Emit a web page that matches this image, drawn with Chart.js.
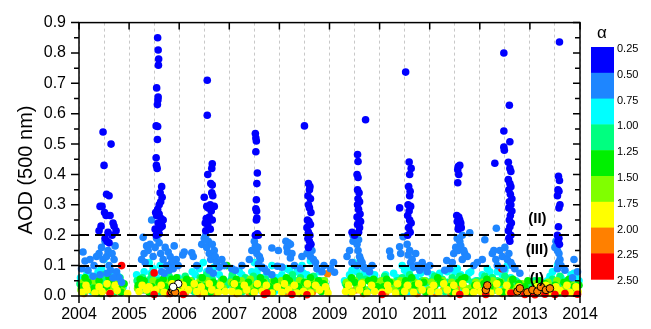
<!DOCTYPE html>
<html>
<head>
<meta charset="utf-8">
<title>AOD (500 nm) 2004-2014</title>
<script src="https://cdn.jsdelivr.net/npm/chart.js@4.4.1/dist/chart.umd.min.js"></script>
<style>
    html, body { margin: 0; padding: 0; background: #fff; }
    canvas { display: block; }
</style>
</head>
<body>
<canvas id="aodChart" width="651" height="329"></canvas>
<script>
/**
 * AOD (500 nm) time series coloured by Angstrom exponent (alpha)
 */

// Axis setup
const yearMin = 2004;
const yearMax = 2014;
const aodMax = 0.9;

// Alpha colour bins (top to bottom of the colour bar)
const alphaTicks = ['0.25', '0.50', '0.75', '1.00', '1.25', '1.50', '1.75', '2.00', '2.25', '2.50'];
const alphaColors = ['#0000ff', '#1e86ff', '#00ffff', '#00ff80', '#00f000', '#80ff00', '#ffff00', '#ff8000', '#ff0000'];

// Threshold lines and the region labels
const thresholds = [0.2, 0.1];
const regionLabels = ['(II)', '(III)', '(I)'];
const regionYears = [2013.15, 2013.14, 2013.14];
const regionAod = [0.255, 0.153, 0.057];

// Points per alpha bin: [decimal year, AOD]
const alpha025 = [
    [2004.48,0.54],[2004.50,0.43],[2004.64,0.50],[2004.55,0.335],[2004.60,0.33],[2004.42,0.295],[2004.46,0.295],
    [2004.51,0.275],[2004.54,0.265],[2004.62,0.265],[2004.68,0.24],[2004.70,0.23],[2004.40,0.215],[2004.44,0.23],
    [2004.58,0.21],[2004.52,0.19],[2004.56,0.18],[2004.60,0.175],[2004.66,0.20],[2004.74,0.215],
    [2005.57,0.85],[2005.58,0.81],[2005.59,0.78],[2005.585,0.76],[2005.55,0.685],[2005.58,0.655],[2005.575,0.645],
    [2005.565,0.63],[2005.54,0.56],[2005.57,0.558],[2005.565,0.515],[2005.54,0.455],[2005.545,0.43],[2005.56,0.42],
    [2005.65,0.36],[2005.62,0.34],[2005.66,0.325],[2005.63,0.31],[2005.60,0.30],[2005.57,0.285],[2005.53,0.275],
    [2005.55,0.265],[2005.60,0.27],[2005.64,0.255],[2005.68,0.25],[2005.58,0.24],[2005.52,0.22],[2005.56,0.215],
    [2005.62,0.225],[2005.66,0.23],[2005.54,0.20],[2005.60,0.205],
    [2006.56,0.71],[2006.56,0.595],[2006.66,0.435],[2006.65,0.42],[2006.57,0.40],[2006.63,0.37],[2006.66,0.365],
    [2006.65,0.34],[2006.67,0.33],[2006.50,0.325],[2006.62,0.30],[2006.55,0.295],[2006.58,0.29],[2006.70,0.295],
    [2006.64,0.28],[2006.60,0.26],[2006.54,0.255],[2006.66,0.25],[2006.52,0.24],[2006.57,0.235],[2006.53,0.215],[2006.62,0.22],
    [2007.52,0.535],[2007.53,0.52],[2007.54,0.51],[2007.53,0.475],[2007.56,0.405],[2007.55,0.37],[2007.54,0.317],
    [2007.53,0.287],[2007.545,0.28],[2007.55,0.257],[2007.54,0.25],[2007.56,0.205],[2007.58,0.20],[2007.52,0.20],
    [2008.50,0.56],[2008.58,0.37],[2008.61,0.36],[2008.60,0.35],[2008.57,0.33],[2008.62,0.32],[2008.58,0.30],
    [2008.60,0.29],[2008.63,0.275],[2008.56,0.25],[2008.59,0.245],[2008.62,0.235],[2008.55,0.225],[2008.58,0.21],
    [2008.61,0.20],[2008.57,0.19],[2008.60,0.18],[2008.63,0.17],[2008.58,0.16],
    [2009.72,0.58],[2009.56,0.466],[2009.57,0.443],[2009.55,0.40],[2009.57,0.39],[2009.56,0.35],[2009.59,0.34],
    [2009.57,0.32],[2009.60,0.31],[2009.56,0.30],[2009.58,0.285],[2009.61,0.27],[2009.55,0.26],[2009.59,0.25],
    [2009.62,0.245],[2009.56,0.235],[2009.60,0.225],[2009.58,0.21],[2009.45,0.21],[2009.50,0.20],
    [2010.52,0.737],[2010.59,0.441],[2010.63,0.42],[2010.60,0.40],[2010.58,0.36],[2010.61,0.345],[2010.60,0.33],
    [2010.57,0.30],[2010.62,0.295],[2010.59,0.28],[2010.56,0.265],[2010.60,0.25],[2010.63,0.24],[2010.58,0.225],
    [2010.61,0.21],[2010.56,0.20],[2010.40,0.29],
    [2011.57,0.426],[2011.60,0.43],[2011.56,0.416],[2011.58,0.40],[2011.56,0.373],[2011.54,0.265],[2011.58,0.26],
    [2011.60,0.25],[2011.55,0.245],[2011.62,0.24],[2011.58,0.23],[2011.57,0.22],[2011.63,0.225],
    [2012.48,0.80],[2012.59,0.628],[2012.48,0.543],[2012.60,0.508],[2012.48,0.49],[2012.49,0.48],[2012.30,0.437],
    [2012.57,0.44],[2012.60,0.42],[2012.62,0.41],[2012.57,0.383],[2012.60,0.37],[2012.62,0.36],[2012.58,0.35],
    [2012.61,0.335],[2012.64,0.32],[2012.59,0.31],[2012.62,0.30],[2012.58,0.29],[2012.64,0.28],[2012.61,0.265],
    [2012.59,0.25],[2012.63,0.24],[2012.60,0.228],[2012.57,0.215],[2012.62,0.20],[2012.58,0.19],[2012.60,0.18],
    [2013.59,0.836],[2013.57,0.394],[2013.59,0.38],[2013.56,0.35],[2013.58,0.345],[2013.55,0.33],[2013.60,0.30],
    [2013.58,0.29],[2013.57,0.228],[2013.55,0.20],[2013.58,0.19],[2013.56,0.18],[2013.59,0.17]
];
const alpha050 = [
    [2004.08,0.145],[2004.12,0.115],[2004.05,0.09],[2004.22,0.12],[2004.18,0.085],[2004.30,0.10],[2004.35,0.13],
    [2004.40,0.14],[2004.45,0.16],[2004.48,0.12],[2004.52,0.18],[2004.55,0.13],[2004.58,0.15],[2004.60,0.10],
    [2004.63,0.085],[2004.66,0.14],[2004.70,0.12],[2004.72,0.165],[2004.75,0.08],[2004.80,0.06],[2004.85,0.045],
    [2004.28,0.065],[2004.42,0.07],[2004.56,0.075],[2004.68,0.06],
    [2005.28,0.193],[2005.25,0.12],[2005.30,0.14],[2005.35,0.165],[2005.32,0.11],[2005.38,0.15],[2005.42,0.17],
    [2005.45,0.25],[2005.48,0.13],[2005.52,0.16],[2005.55,0.19],[2005.60,0.175],[2005.63,0.14],[2005.68,0.12],
    [2005.72,0.16],[2005.75,0.10],[2005.78,0.145],[2005.82,0.13],[2005.85,0.11],[2005.90,0.165],[2005.94,0.12],
    [2005.98,0.10],[2005.65,0.08],[2005.70,0.075],[2005.80,0.085],[2005.88,0.09],
    [2006.07,0.135],[2006.10,0.145],[2006.25,0.142],[2006.28,0.13],[2006.35,0.10],[2006.45,0.17],[2006.50,0.19],
    [2006.53,0.20],[2006.55,0.16],[2006.58,0.18],[2006.60,0.14],[2006.63,0.12],[2006.66,0.17],[2006.70,0.15],
    [2006.72,0.13],[2006.75,0.11],[2006.80,0.095],[2006.85,0.12],[2006.90,0.10],[2006.60,0.085],[2006.68,0.075],
    [2007.05,0.09],[2007.12,0.085],[2007.25,0.10],[2007.40,0.12],[2007.45,0.15],[2007.50,0.18],[2007.52,0.165],
    [2007.55,0.14],[2007.57,0.16],[2007.60,0.13],[2007.62,0.12],[2007.58,0.105],[2007.65,0.095],[2007.70,0.09],
    [2007.75,0.08],[2007.85,0.07],[2007.85,0.158],[2007.96,0.098],[2007.98,0.15],
    [2008.05,0.095],[2008.13,0.18],[2008.18,0.175],[2008.15,0.16],[2008.22,0.17],[2008.16,0.145],[2008.25,0.14],
    [2008.22,0.125],[2008.30,0.10],[2008.45,0.13],[2008.55,0.14],[2008.60,0.16],[2008.62,0.13],[2008.65,0.15],
    [2008.68,0.12],[2008.72,0.11],[2008.75,0.09],[2008.89,0.10],[2008.85,0.08],[2008.42,0.09],
    [2009.02,0.09],[2009.08,0.11],[2009.10,0.078],[2009.35,0.13],[2009.40,0.15],[2009.45,0.11],[2009.47,0.20],
    [2009.47,0.18],[2009.55,0.17],[2009.57,0.15],[2009.60,0.13],[2009.62,0.12],[2009.58,0.185],[2009.65,0.11],
    [2009.68,0.095],[2009.72,0.09],[2009.80,0.08],[2009.85,0.10],[2009.55,0.10],
    [2010.20,0.148],[2010.22,0.13],[2010.40,0.162],[2010.42,0.14],[2010.47,0.195],[2010.55,0.17],[2010.57,0.135],
    [2010.60,0.15],[2010.62,0.11],[2010.65,0.12],[2010.68,0.095],[2010.72,0.14],[2010.75,0.10],[2010.80,0.085],
    [2010.85,0.11],[2010.90,0.095],[2010.95,0.08],[2011.00,0.10],
    [2011.34,0.117],[2011.45,0.11],[2011.48,0.14],[2011.52,0.16],[2011.55,0.19],[2011.65,0.20],[2011.60,0.18],
    [2011.62,0.165],[2011.57,0.15],[2011.70,0.14],[2011.65,0.12],[2011.68,0.15],[2011.80,0.208],[2011.75,0.13],
    [2011.88,0.10],[2011.95,0.11],[2011.40,0.09],[2011.30,0.085],
    [2012.10,0.185],[2012.25,0.14],[2012.28,0.15],[2012.32,0.12],[2012.35,0.10],[2012.33,0.223],[2012.40,0.15],
    [2012.45,0.13],[2012.50,0.16],[2012.55,0.12],[2012.58,0.14],[2012.62,0.11],[2012.65,0.10],[2012.48,0.09],
    [2012.70,0.09],[2012.80,0.075],[2012.05,0.12],
    [2013.50,0.16],[2013.52,0.18],[2013.55,0.15],[2013.58,0.14],[2013.60,0.12],[2013.57,0.11],[2013.62,0.10],
    [2013.55,0.09],[2013.85,0.06],[2013.88,0.12],[2013.95,0.08],[2013.70,0.085]
];
const alpha075 = [
    [2004.03,0.06],[2004.10,0.05],[2004.20,0.07],[2004.30,0.055],[2004.38,0.08],[2004.45,0.09],[2004.50,0.12],
    [2004.55,0.06],[2004.62,0.07],[2004.70,0.05],[2004.78,0.065],[2004.88,0.03],[2004.16,0.075],[2004.40,0.065],
    [2004.07,0.02],[2004.26,0.015],[2004.66,0.025],[2004.84,0.02],
    [2005.15,0.07],[2005.22,0.06],[2005.30,0.08],[2005.40,0.11],[2005.48,0.09],[2005.55,0.06],[2005.62,0.10],
    [2005.70,0.05],[2005.78,0.065],[2005.90,0.04],[2005.98,0.06],[2005.44,0.075],
    [2005.19,0.03],[2005.33,0.02],[2005.58,0.025],[2005.74,0.015],
    [2006.05,0.05],[2006.12,0.06],[2006.22,0.04],[2006.32,0.07],[2006.40,0.09],[2006.48,0.11],[2006.55,0.08],
    [2006.62,0.06],[2006.70,0.095],[2006.80,0.07],[2006.90,0.05],[2006.26,0.08],[2006.58,0.07],
    [2006.16,0.02],[2006.36,0.025],[2006.52,0.02],[2006.86,0.02],
    [2007.05,0.06],[2007.15,0.04],[2007.25,0.07],[2007.35,0.05],[2007.45,0.08],[2007.50,0.11],[2007.58,0.09],
    [2007.65,0.06],[2007.75,0.07],[2007.85,0.10],[2007.95,0.06],[2007.20,0.08],[2007.55,0.075],
    [2007.08,0.02],[2007.30,0.025],[2007.62,0.02],[2007.90,0.015],
    [2008.05,0.07],[2008.15,0.09],[2008.25,0.06],[2008.35,0.08],[2008.45,0.10],[2008.55,0.07],[2008.62,0.115],
    [2008.70,0.06],[2008.80,0.08],[2008.90,0.05],[2008.20,0.085],[2008.48,0.075],
    [2008.10,0.02],[2008.30,0.025],[2008.58,0.02],[2008.85,0.02],
    [2009.30,0.05],[2009.40,0.07],[2009.48,0.11],[2009.55,0.08],[2009.62,0.06],[2009.70,0.075],[2009.80,0.05],
    [2009.90,0.07],[2009.45,0.085],[2009.75,0.065],[2009.36,0.02],[2009.58,0.025],[2009.85,0.02],
    [2010.02,0.05],[2010.12,0.07],[2010.22,0.04],[2010.35,0.06],[2010.45,0.10],[2010.55,0.07],[2010.62,0.09],
    [2010.72,0.06],[2010.82,0.075],[2010.92,0.05],[2010.28,0.075],[2010.50,0.085],
    [2010.08,0.025],[2010.30,0.02],[2010.58,0.015],[2010.88,0.025],
    [2011.05,0.07],[2011.15,0.06],[2011.25,0.04],[2011.35,0.08],[2011.45,0.05],[2011.55,0.09],[2011.62,0.07],
    [2011.72,0.06],[2011.82,0.08],[2011.92,0.05],[2011.20,0.075],[2011.50,0.08],[2011.78,0.075],
    [2011.10,0.02],[2011.40,0.025],[2011.68,0.02],[2011.88,0.03],
    [2012.05,0.07],[2012.15,0.09],[2012.25,0.06],[2012.35,0.08],[2012.45,0.07],[2012.55,0.10],[2012.62,0.06],
    [2012.72,0.05],[2012.82,0.04],[2012.92,0.03],[2012.20,0.08],[2012.50,0.085],
    [2012.10,0.025],[2012.40,0.02],[2012.68,0.025],
    [2013.05,0.03],[2013.15,0.04],[2013.35,0.05],[2013.45,0.08],[2013.55,0.10],[2013.62,0.06],[2013.72,0.05],
    [2013.82,0.07],[2013.92,0.06],[2013.98,0.05],[2013.40,0.065],[2013.88,0.075],
    [2013.20,0.02],[2013.50,0.025],[2013.78,0.02]
];
const alpha100 = [
    [2004.02,0.04],[2004.08,0.03],[2004.14,0.055],[2004.22,0.045],[2004.28,0.035],[2004.36,0.06],[2004.44,0.04],
    [2004.52,0.05],[2004.58,0.035],[2004.66,0.055],[2004.74,0.045],[2004.82,0.06],
    [2004.10,0.015],[2004.32,0.02],[2004.50,0.07],[2004.70,0.015],
    [2005.16,0.05],[2005.20,0.04],[2005.27,0.06],[2005.34,0.045],[2005.42,0.055],[2005.50,0.04],[2005.58,0.05],
    [2005.66,0.035],[2005.74,0.055],[2005.84,0.045],[2005.95,0.03],
    [2005.24,0.02],[2005.46,0.07],[2005.62,0.015],[2005.80,0.065],
    [2006.03,0.04],[2006.15,0.035],[2006.25,0.05],[2006.33,0.03],[2006.42,0.06],[2006.50,0.045],[2006.58,0.035],
    [2006.66,0.055],[2006.74,0.04],[2006.84,0.05],[2006.94,0.035],
    [2006.12,0.065],[2006.30,0.015],[2006.55,0.07],[2006.78,0.015],
    [2007.03,0.05],[2007.12,0.035],[2007.22,0.045],[2007.32,0.06],[2007.42,0.04],[2007.52,0.05],[2007.62,0.035],
    [2007.72,0.055],[2007.82,0.045],[2007.92,0.04],
    [2007.06,0.07],[2007.26,0.015],[2007.48,0.065],[2007.76,0.02],
    [2008.02,0.045],[2008.12,0.055],[2008.22,0.04],[2008.32,0.05],[2008.42,0.06],[2008.52,0.045],[2008.62,0.055],
    [2008.72,0.04],[2008.82,0.05],[2008.92,0.035],
    [2008.06,0.015],[2008.26,0.07],[2008.48,0.02],[2008.68,0.065],
    [2009.32,0.04],[2009.42,0.055],[2009.52,0.05],[2009.62,0.04],[2009.72,0.055],[2009.82,0.045],[2009.92,0.05],
    [2009.40,0.015],[2009.60,0.065],[2009.78,0.02],
    [2010.05,0.04],[2010.15,0.05],[2010.25,0.035],[2010.35,0.05],[2010.45,0.06],[2010.55,0.045],[2010.65,0.055],
    [2010.75,0.04],[2010.85,0.05],[2010.95,0.045],
    [2010.10,0.065],[2010.32,0.015],[2010.60,0.07],[2010.80,0.02],
    [2011.05,0.05],[2011.15,0.04],[2011.25,0.055],[2011.35,0.045],[2011.45,0.06],[2011.55,0.05],[2011.65,0.04],
    [2011.75,0.055],[2011.85,0.045],[2011.95,0.05],
    [2011.10,0.065],[2011.30,0.015],[2011.60,0.065],[2011.90,0.02],
    [2012.05,0.05],[2012.15,0.045],[2012.25,0.06],[2012.35,0.05],[2012.45,0.04],[2012.55,0.055],[2012.65,0.035],
    [2012.75,0.045],[2012.85,0.03],[2012.95,0.04],
    [2012.10,0.065],[2012.30,0.02],[2012.50,0.065],[2012.80,0.02],
    [2013.05,0.035],[2013.15,0.045],[2013.25,0.03],[2013.35,0.04],[2013.45,0.055],[2013.55,0.045],[2013.65,0.04],
    [2013.75,0.05],[2013.85,0.045],[2013.95,0.04],
    [2013.10,0.05],[2013.40,0.015],[2013.60,0.065],[2013.90,0.02]
];
const alpha125 = [
    [2004.05,0.03],[2004.18,0.045],[2004.30,0.025],[2004.40,0.05],[2004.55,0.03],[2004.65,0.045],[2004.78,0.035],[2004.90,0.04],
    [2004.12,0.06],[2004.35,0.01],[2004.60,0.06],[2004.84,0.012],
    [2005.18,0.035],[2005.30,0.05],[2005.45,0.03],[2005.60,0.045],[2005.72,0.03],[2005.85,0.055],[2005.95,0.06],
    [2005.22,0.055],[2005.40,0.012],[2005.68,0.055],[2005.90,0.015],
    [2006.08,0.03],[2006.20,0.045],[2006.38,0.035],[2006.52,0.03],[2006.68,0.045],[2006.80,0.03],[2006.95,0.10],
    [2006.15,0.055],[2006.46,0.06],[2006.62,0.012],[2006.88,0.055],
    [2007.08,0.04],[2007.20,0.03],[2007.38,0.045],[2007.55,0.035],[2007.68,0.045],[2007.80,0.03],[2007.90,0.05],
    [2007.14,0.055],[2007.46,0.012],[2007.62,0.06],[2007.86,0.012],
    [2008.08,0.035],[2008.20,0.05],[2008.38,0.03],[2008.50,0.045],[2008.68,0.035],[2008.78,0.05],[2008.88,0.04],
    [2008.14,0.06],[2008.44,0.012],[2008.62,0.06],[2008.84,0.015],
    [2009.35,0.03],[2009.50,0.045],[2009.65,0.035],[2009.78,0.05],[2009.95,0.03],
    [2009.44,0.06],[2009.70,0.012],[2009.88,0.055],
    [2010.08,0.03],[2010.20,0.045],[2010.40,0.035],[2010.52,0.05],[2010.70,0.035],[2010.88,0.045],
    [2010.14,0.055],[2010.46,0.012],[2010.64,0.06],[2010.92,0.012],
    [2011.10,0.035],[2011.22,0.045],[2011.40,0.03],[2011.58,0.045],[2011.70,0.06],[2011.90,0.035],
    [2011.16,0.06],[2011.46,0.012],[2011.64,0.055],[2011.84,0.012],
    [2012.08,0.04],[2012.20,0.03],[2012.40,0.045],[2012.60,0.035],[2012.78,0.04],[2012.90,0.03],
    [2012.14,0.055],[2012.46,0.012],[2012.66,0.055],[2012.96,0.05],
    [2013.10,0.03],[2013.30,0.04],[2013.50,0.035],[2013.68,0.045],[2013.88,0.03],[2013.98,0.035],
    [2013.20,0.05],[2013.58,0.012],[2013.78,0.055]
];
const alpha150 = [
    [2004.04,0.02],[2004.12,0.035],[2004.25,0.02],[2004.34,0.03],[2004.48,0.025],[2004.60,0.02],[2004.72,0.03],[2004.86,0.02],
    [2004.08,0.045],[2004.28,0.05],[2004.44,0.008],[2004.68,0.05],[2004.80,0.045],
    [2005.17,0.025],[2005.25,0.04],[2005.37,0.03],[2005.52,0.025],[2005.65,0.02],[2005.80,0.03],[2005.92,0.02],
    [2005.28,0.045],[2005.48,0.05],[2005.72,0.045],[2005.88,0.05],
    [2006.10,0.02],[2006.28,0.03],[2006.45,0.025],[2006.60,0.02],[2006.72,0.035],[2006.88,0.025],
    [2006.06,0.045],[2006.22,0.05],[2006.40,0.045],[2006.56,0.05],[2006.84,0.045],
    [2007.10,0.03],[2007.28,0.02],[2007.45,0.03],[2007.60,0.025],[2007.78,0.02],[2007.94,0.03],
    [2007.04,0.045],[2007.24,0.05],[2007.42,0.055],[2007.70,0.045],[2007.88,0.05],
    [2008.10,0.025],[2008.28,0.03],[2008.45,0.02],[2008.58,0.03],[2008.75,0.025],[2008.94,0.02],
    [2008.04,0.05],[2008.22,0.045],[2008.40,0.05],[2008.70,0.045],[2008.90,0.05],
    [2009.38,0.025],[2009.55,0.03],[2009.70,0.02],[2009.88,0.03],
    [2009.34,0.045],[2009.50,0.05],[2009.66,0.045],[2009.94,0.045],
    [2010.10,0.025],[2010.30,0.02],[2010.48,0.03],[2010.62,0.025],[2010.80,0.03],[2010.98,0.02],
    [2010.04,0.05],[2010.24,0.045],[2010.42,0.05],[2010.70,0.045],[2010.90,0.05],
    [2011.08,0.025],[2011.30,0.03],[2011.50,0.02],[2011.68,0.03],[2011.80,0.025],[2011.98,0.02],
    [2011.04,0.045],[2011.26,0.05],[2011.44,0.045],[2011.62,0.05],[2011.92,0.045],
    [2012.12,0.025],[2012.30,0.03],[2012.50,0.02],[2012.70,0.025],[2012.88,0.02],
    [2012.06,0.045],[2012.26,0.05],[2012.42,0.045],[2012.62,0.05],[2012.84,0.04],
    [2013.08,0.02],[2013.28,0.025],[2013.48,0.02],[2013.70,0.03],[2013.90,0.025],
    [2013.12,0.04],[2013.36,0.045],[2013.54,0.05],[2013.82,0.045]
];
const alpha175 = [
    [2004.06,0.012],[2004.16,0.02],[2004.32,0.01],[2004.46,0.015],[2004.62,0.01],[2004.76,0.018],[2004.97,0.008],
    [2004.14,0.035],[2004.40,0.03],[2004.56,0.04],[2004.72,0.035],
    [2005.20,0.015],[2005.35,0.02],[2005.50,0.015],[2005.53,0.02],[2005.70,0.012],[2005.82,0.01],[2005.93,0.02],
    [2005.26,0.035],[2005.40,0.03],[2005.64,0.035],[2005.86,0.04],
    [2006.05,0.012],[2006.18,0.02],[2006.35,0.015],[2006.50,0.01],[2006.65,0.02],[2006.78,0.012],[2006.92,0.015],
    [2006.08,0.035],[2006.30,0.04],[2006.44,0.03],[2006.60,0.04],[2006.82,0.035],
    [2007.05,0.015],[2007.18,0.01],[2007.35,0.02],[2007.50,0.012],[2007.66,0.015],[2007.85,0.01],
    [2007.10,0.04],[2007.30,0.035],[2007.56,0.04],[2007.74,0.035],[2007.96,0.03],
    [2008.05,0.012],[2008.18,0.02],[2008.35,0.01],[2008.48,0.015],[2008.62,0.01],[2008.80,0.02],[2008.97,0.01],
    [2008.10,0.04],[2008.30,0.035],[2008.56,0.04],[2008.72,0.035],[2008.92,0.03],
    [2009.32,0.015],[2009.45,0.012],[2009.60,0.02],[2009.75,0.01],[2009.90,0.015],
    [2009.38,0.035],[2009.64,0.04],[2009.84,0.035],
    [2010.05,0.012],[2010.18,0.02],[2010.32,0.01],[2010.50,0.015],[2010.68,0.012],[2010.85,0.02],
    [2010.16,0.035],[2010.36,0.04],[2010.56,0.035],[2010.78,0.04],
    [2011.02,0.015],[2011.18,0.012],[2011.35,0.02],[2011.52,0.01],[2011.72,0.015],[2011.88,0.012],
    [2011.08,0.035],[2011.28,0.04],[2011.48,0.035],[2011.66,0.04],[2011.94,0.035],
    [2012.02,0.015],[2012.22,0.01],[2012.38,0.015],[2012.58,0.012],[2012.75,0.018],[2012.92,0.01],
    [2012.16,0.035],[2012.34,0.04],[2012.54,0.035],[2012.78,0.03],
    [2013.02,0.012],[2013.20,0.015],[2013.40,0.01],[2013.60,0.018],[2013.80,0.012],[2013.96,0.015],
    [2013.14,0.03],[2013.32,0.035],[2013.52,0.03],[2013.74,0.035],[2013.92,0.03]
];
const alpha200 = [
    [2004.10,0.008],[2004.38,0.012],[2004.70,0.01],[2004.26,0.025],[2004.52,0.02],
    [2005.42,0.01],[2005.76,0.008],[2005.30,0.02],[2005.56,0.025],
    [2006.12,0.01],[2006.40,0.008],[2006.70,0.012],[2006.26,0.02],[2006.54,0.025],
    [2007.15,0.008],[2007.40,0.01],[2007.72,0.012],[2007.26,0.02],[2007.58,0.025],
    [2008.15,0.01],[2008.40,0.008],[2008.66,0.012],[2008.96,0.073],[2008.28,0.02],[2008.50,0.025],
    [2009.42,0.01],[2009.68,0.008],[2009.52,0.02],
    [2010.12,0.01],[2010.40,0.012],[2010.75,0.008],[2010.28,0.025],[2010.60,0.02],
    [2011.12,0.01],[2011.42,0.008],[2011.75,0.012],[2011.28,0.02],[2011.58,0.025],
    [2012.18,0.01],[2012.45,0.008],[2012.70,0.012],[2012.85,0.015],[2012.28,0.02],[2012.58,0.025],[2012.76,0.02],[2012.96,0.025],
    [2013.05,0.01],[2013.25,0.012],[2013.45,0.008],[2013.65,0.015],[2013.85,0.01],[2013.18,0.02],[2013.38,0.03],[2013.56,0.02],[2013.76,0.025]
];
const alpha225 = [
    [2004.85,0.10],[2004.62,0.008],[2005.50,0.076],[2005.50,0.005],[2005.82,0.008],[2006.08,0.005],[2007.70,0.005],
    [2007.75,0.01],[2008.25,0.005],[2008.55,0.004],[2010.05,0.005],[2011.60,0.005],[2012.12,0.005],[2012.44,0.09],
    [2012.62,0.01],[2012.90,0.005],[2013.00,0.008],[2013.10,0.004],[2013.30,0.006],[2013.50,0.005],[2013.70,0.008],[2013.95,0.006]
];
// Points drawn with a black rim
const rimmed = [
    [2005.85,0.015],[2005.88,0.02],[2005.92,0.012],[2012.12,0.02],[2012.15,0.035],[2012.75,0.015],[2012.80,0.025],
    [2012.95,0.012],[2013.05,0.02],[2013.15,0.015],[2013.22,0.03],[2013.32,0.02],[2013.40,0.025]
];
const openCircles = [[2005.98,0.04],[2005.88,0.03]];

const FONT = '"Liberation Sans", Arial, sans-serif';
const POINT_R = 3.8;

function toPoints(pairs) {
    return pairs.map(p => ({ x: p[0], y: p[1] }));
}

function scatterSet(label, pairs, color, order) {
    return {
        label: label,
        data: toPoints(pairs),
        backgroundColor: color,
        borderWidth: 0,
        pointRadius: POINT_R,
        order: order,
        clip: false
    };
}

/**
 * Frame, ticks, threshold lines and labels
 */
const overlayPlugin = {
    id: 'overlay',
    afterDatasetsDraw(chart) {
        const { ctx, chartArea: a, scales: { x, y } } = chart;
        ctx.save();

        // dashed thresholds
        ctx.strokeStyle = '#000';
        ctx.lineWidth = 2;
        ctx.setLineDash([10, 6]);
        thresholds.forEach(v => {
            const py = Math.round(y.getPixelForValue(v));
            ctx.beginPath();
            ctx.moveTo(a.left, py);
            ctx.lineTo(a.right, py);
            ctx.stroke();
        });
        ctx.setLineDash([]);

        // region labels
        ctx.fillStyle = '#000';
        ctx.font = 'bold 15px ' + FONT;
        ctx.textAlign = 'center';
        ctx.textBaseline = 'middle';
        regionLabels.forEach((t, i) => {
            ctx.fillText(t, x.getPixelForValue(regionYears[i]), y.getPixelForValue(regionAod[i]));
        });

        // frame
        ctx.lineWidth = 1.5;
        ctx.strokeRect(a.left, a.top, a.right - a.left, a.bottom - a.top);

        // ticks
        ctx.beginPath();
        for (let yr = yearMin; yr <= yearMax; yr += 0.5) {
            const px = x.getPixelForValue(yr);
            const major = Number.isInteger(yr);
            ctx.moveTo(px, a.bottom);
            ctx.lineTo(px, a.bottom + (major ? 7 : 4));
            if (major) {
                ctx.moveTo(px, a.top);
                ctx.lineTo(px, a.top + 7);
            }
        }
        for (let k = 0; k <= 18; k++) {
            const py = y.getPixelForValue(k * 0.05);
            const major = k % 2 === 0;
            ctx.moveTo(a.left, py);
            ctx.lineTo(a.left - (major ? 8 : 5), py);
            ctx.moveTo(a.right, py);
            ctx.lineTo(a.right - (major ? 7 : 5), py);
        }
        ctx.stroke();
        ctx.restore();
    },
    afterDraw(chart) {
        const { ctx } = chart;
        ctx.save();

        // y axis title
        ctx.fillStyle = '#000';
        ctx.font = '20px ' + FONT;
        ctx.textAlign = 'center';
        ctx.textBaseline = 'middle';
        ctx.translate(26, 170);
        ctx.rotate(-Math.PI / 2);
        ctx.fillText('AOD (500 nm)', 0, 0);
        ctx.restore();

        // colour bar
        ctx.save();
        const barLeft = 591, barTop = 47, barW = 23, binH = 25.8;
        alphaColors.forEach((c, i) => {
            ctx.fillStyle = c;
            ctx.fillRect(barLeft, barTop + i * binH, barW, binH + 0.5);
        });
        ctx.fillStyle = '#000';
        ctx.font = '11px ' + FONT;
        ctx.textAlign = 'left';
        ctx.textBaseline = 'middle';
        alphaTicks.forEach((t, i) => {
            ctx.fillText(t, barLeft + barW + 3, barTop + i * binH + 2);
        });
        ctx.font = '17px ' + FONT;
        ctx.textAlign = 'center';
        ctx.fillText('α', 602, 33);
        ctx.restore();
    }
};

// lower order is drawn on top
const datasets = [
    scatterSet('α 0.25–0.50', alpha025, alphaColors[0], 0),
    scatterSet('α 0.50–0.75', alpha050, alphaColors[1], 1),
    scatterSet('α 2.25–2.50', alpha225, alphaColors[8], 2),
    scatterSet('α 1.75–2.00', alpha175, alphaColors[6], 3),
    scatterSet('α 1.25–1.50', alpha125, alphaColors[4], 4),
    scatterSet('α 1.50–1.75', alpha150, alphaColors[5], 5),
    scatterSet('α 1.00–1.25', alpha100, alphaColors[3], 6),
    scatterSet('α 0.75–1.00', alpha075, alphaColors[2], 7),
    scatterSet('α 2.00–2.25', alpha200, alphaColors[7], 8),
    {
        label: 'rimmed',
        data: toPoints(rimmed),
        backgroundColor: alphaColors[7],
        borderColor: '#000',
        borderWidth: 1,
        pointRadius: POINT_R,
        order: -1,
        clip: false
    },
    {
        label: 'open',
        data: toPoints(openCircles),
        backgroundColor: '#fff',
        borderColor: '#000',
        borderWidth: 1,
        pointRadius: POINT_R,
        order: -2,
        clip: false
    }
];

new Chart(document.getElementById('aodChart'), {
    type: 'scatter',
    data: { datasets: datasets },
    options: {
        responsive: false,
        animation: false,
        layout: { padding: { left: 0, top: 16, right: 71, bottom: 0 } },
        plugins: {
            legend: { display: false },
            tooltip: { enabled: false }
        },
        scales: {
            x: {
                type: 'linear',
                min: yearMin,
                max: yearMax,
                afterFit: s => { s.height = 33; },
                border: { display: false, dash: [3, 3] },
                grid: { color: '#c8c8c8', lineWidth: 1, drawTicks: false },
                ticks: {
                    stepSize: 0.5,
                    autoSkip: false,
                    maxRotation: 0,
                    padding: 9,
                    color: '#000',
                    font: { family: FONT, size: 16 },
                    callback: v => (Number.isInteger(v) ? String(v) : '')
                }
            },
            y: {
                min: 0,
                max: aodMax,
                afterFit: s => { s.width = 79; },
                border: { display: false },
                grid: { display: false, drawTicks: false },
                ticks: {
                    stepSize: 0.1,
                    padding: 13,
                    color: '#000',
                    font: { family: FONT, size: 16 },
                    callback: v => v.toFixed(1)
                }
            }
        }
    },
    plugins: [overlayPlugin]
});
</script>
</body>
</html>
